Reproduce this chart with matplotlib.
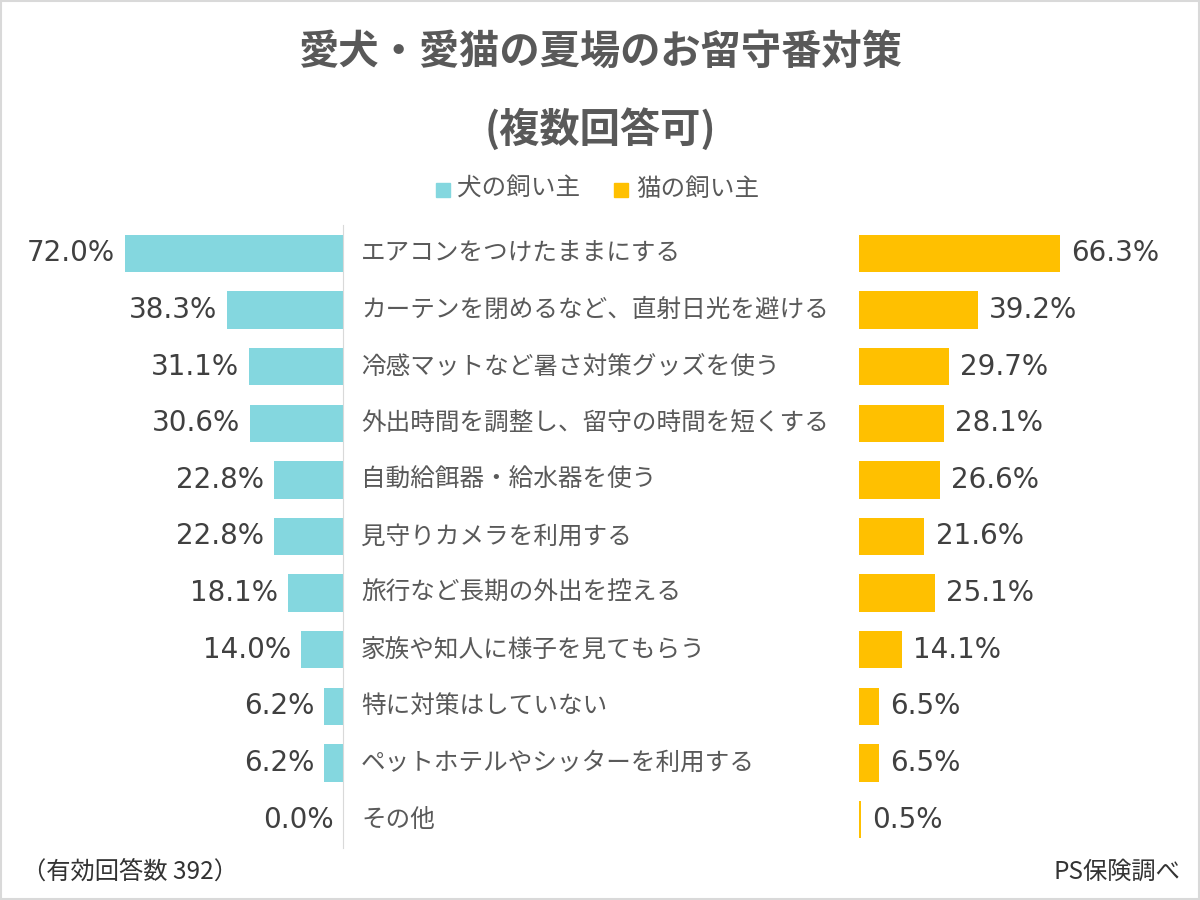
import matplotlib.pyplot as plt
import matplotlib.transforms as mtransforms
from matplotlib.patches import Rectangle

plt.rcParams['font.family'] = ['DejaVu Sans', 'Noto Sans CJK JP']

categories = [
    "エアコンをつけたままにする",
    "カーテンを閉めるなど、直射日光を避ける",
    "冷感マットなど暑さ対策グッズを使う",
    "外出時間を調整し、留守の時間を短くする",
    "自動給餌器・給水器を使う",
    "見守りカメラを利用する",
    "旅行など長期の外出を控える",
    "家族や知人に様子を見てもらう",
    "特に対策はしていない",
    "ペットホテルやシッターを利用する",
    "その他",
]
dog = [72.0, 38.3, 31.1, 30.6, 22.8, 22.8, 18.1, 14.0, 6.2, 6.2, 0.0]
cat = [66.3, 39.2, 29.7, 28.1, 26.6, 21.6, 25.1, 14.1, 6.5, 6.5, 0.5]

dog_color = "#84D7DF"
cat_color = "#FFC000"
jp = ['Noto Sans CJK JP', 'DejaVu Sans']

W, H = 1200, 900
fig = plt.figure(figsize=(12, 9), dpi=100)
fig.patch.set_facecolor("white")

scale = 3.03  # px per %
y_top, y_bot = 225, 848
ax_l = fig.add_axes([0, 1 - y_bot / H, 343 / W, (y_bot - y_top) / H])
ax_r = fig.add_axes([859 / W, 1 - y_bot / H, (W - 859) / W, (y_bot - y_top) / H])

ypos = list(range(len(categories)))
ax_l.barh(ypos, dog, height=0.66, color=dog_color)
ax_r.barh(ypos, cat, height=0.66, color=cat_color)

ax_l.set_xlim(343 / scale, 0)
ax_r.set_xlim(0, (W - 859) / scale)
for ax in (ax_l, ax_r):
    ax.set_ylim(len(categories) - 0.5, -0.5)
    ax.set_xticks([])
    ax.set_yticks([])
    for s in ax.spines.values():
        s.set_visible(False)
    ax.patch.set_alpha(0)
ax_l.spines["right"].set_visible(True)
ax_l.spines["right"].set_color("#d9d9d9")

for i, v in enumerate(dog):
    ax_l.annotate(f"{v:.1f}%", (v, i), xytext=(-7, 0), textcoords="offset points",
                  ha="right", va="center", fontsize=20, color="#404040")
for i, v in enumerate(cat):
    ax_r.annotate(f"{v:.1f}%", (v, i), xytext=(8, 0), textcoords="offset points",
                  ha="left", va="center", fontsize=20, color="#404040")

trans = mtransforms.blended_transform_factory(fig.transFigure, ax_l.transData)
for i, c in enumerate(categories):
    fig.text(361 / W, i, c, transform=trans, ha="left", va="center",
             fontsize=17.7, color="#595959", family=jp)

# title
fig.text(0.5, 1 - 52 / H, "愛犬・愛猫の夏場のお留守番対策", ha="center", va="center",
         fontsize=29, fontweight="bold", color="#595959", family=jp)
fig.text(0.5, 1 - 130 / H, "(複数回答可)", ha="center", va="center",
         fontsize=29, fontweight="bold", color="#595959", family=jp)

# legend
fig.patches.append(Rectangle((436 / W, 1 - 197 / H), 14 / W, 14 / H,
                             transform=fig.transFigure, color=dog_color))
fig.text(457 / W, 1 - 189 / H, "犬の飼い主", ha="left", va="center",
         fontsize=17.7, color="#595959", family=jp)
fig.patches.append(Rectangle((614 / W, 1 - 197 / H), 14 / W, 14 / H,
                             transform=fig.transFigure, color=cat_color))
fig.text(636 / W, 1 - 189 / H, "猫の飼い主", ha="left", va="center",
         fontsize=17.7, color="#595959", family=jp)

# footer
fig.text(22 / W, 1 - 872 / H, "（有効回答数 392）", ha="left", va="center",
         fontsize=17.5, color="#333333", family=jp)
fig.text(1180 / W, 1 - 872 / H, "PS保険調べ", ha="right", va="center",
         fontsize=17.5, color="#333333", family=jp)

# frame
fig.patches.append(Rectangle((0.001, 0.001), 0.998, 0.998, transform=fig.transFigure,
                             fill=False, edgecolor="#d9d9d9", linewidth=1.5))

fig.savefig("out.png", dpi=100)
